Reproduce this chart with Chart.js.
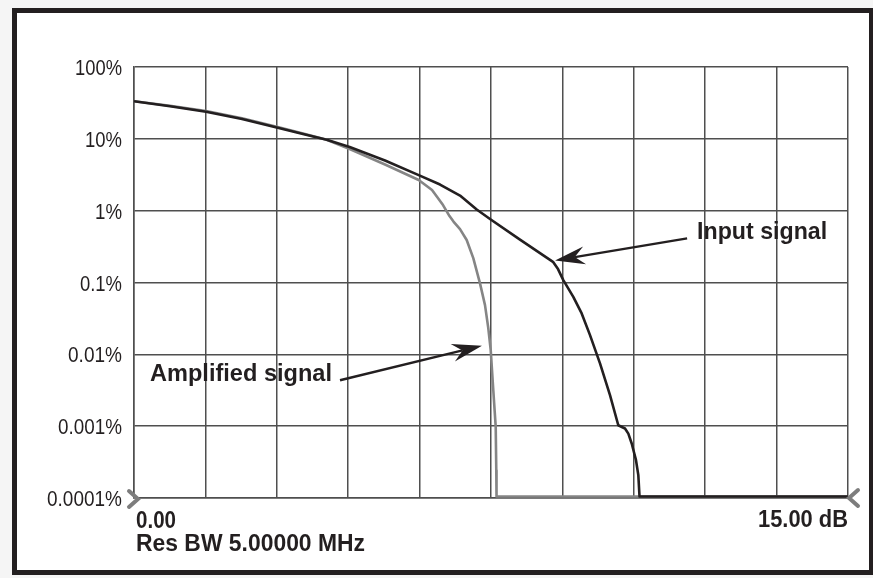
<!DOCTYPE html>
<html>
<head>
<meta charset="utf-8">
<script src="https://cdn.jsdelivr.net/npm/chart.js@4.4.1/dist/chart.umd.min.js"></script>
<style>
  html, body { margin: 0; padding: 0; background: #f5f5f5; }
  canvas { display: block; }
</style>
</head>
<body>
<canvas id="c" width="873" height="578"></canvas>
<script>
// ---- Data ----
const inputX = [0, 0.756, 1.513, 2.269, 3.019, 3.592, 4.048, 4.531, 5.273, 5.981, 6.429, 6.849, 7.200, 7.479, 8.109, 8.802, 8.908, 9.019, 9.229, 9.405, 9.580, 9.790, 10.000, 10.174, 10.315, 10.385, 10.456, 10.546, 10.595, 10.620, 15];
const inputY = [33.3, 28.4, 23.85, 18.87, 14.23, 11.48, 9.69, 7.69, 4.99, 3.13, 2.31, 1.62, 1.036, 0.764, 0.396, 0.194, 0.1537, 0.108, 0.0632, 0.0371, 0.0185, 0.00747, 0.00270, 0.00103, 0.000929, 0.000787, 0.000574, 0.000336, 0.000208, 0.000105, 0.000105];

const ampX = [0, 0.756, 1.513, 2.269, 3.019, 3.592, 4.048, 4.531, 5.273, 5.981, 6.261, 6.492, 6.628, 6.712, 6.849, 6.989, 7.128, 7.269, 7.374, 7.443, 7.494, 7.548, 7.599, 7.611, 7.616, 15];
const ampY = [33.3, 28.8, 24.4, 19.36, 14.6, 11.67, 9.69, 7.21, 4.39, 2.67, 1.94, 1.197, 0.841, 0.705, 0.554, 0.390, 0.2187, 0.0972, 0.0484, 0.0232, 0.01144, 0.00317, 0.000978, 0.000244, 0.000105, 0.000105];

const yTickValues = [100, 10, 1, 0.1, 0.01, 0.001, 0.0001];
const yTickLabels = ['100%', '10%', '1%', '0.1%', '0.01%', '0.001%', '0.0001%'];
const xTickValues = [0, 15];
const xTickLabels = ['0.00', '15.00 dB'];
const xAxisNote = 'Res BW 5.00000 MHz';

const seriesNames = ['Input signal', 'Amplified signal'];
// annotation anchors in data coordinates: [labelX, labelY, tailX, tailY, tipX, tipY]
const inputNote = [11.83, 0.398, 11.62, 0.411, 8.845, 0.203];
const ampNote = [0.336, 0.0043, 4.328, 0.00436, 7.31, 0.0132];

const INK = '#231f20';
const GRID = '#4f4f4f';
const GRAY = '#858585';

function toPts(xs, ys) { return xs.map((x, i) => ({ x: x, y: ys[i] })); }

function fitText(ctx, text, x, y, font, width, align) {
  ctx.save();
  ctx.font = font;
  const w = ctx.measureText(text).width;
  const sx = width / w;
  ctx.textBaseline = 'alphabetic';
  ctx.textAlign = 'left';
  let left = x;
  if (align === 'right') left = x - width;
  ctx.translate(left, y);
  ctx.scale(sx, 1);
  ctx.fillText(text, 0, 0);
  ctx.restore();
}

function arrow(ctx, x1, y1, x2, y2) {
  const ang = Math.atan2(y2 - y1, x2 - x1);
  const L = 30, W = 9, N = 20;
  ctx.save();
  ctx.strokeStyle = INK; ctx.fillStyle = INK; ctx.lineWidth = 2.4;
  ctx.beginPath();
  ctx.moveTo(x1, y1);
  ctx.lineTo(x2 - Math.cos(ang) * N, y2 - Math.sin(ang) * N);
  ctx.stroke();
  ctx.translate(x2, y2); ctx.rotate(ang);
  ctx.beginPath();
  ctx.moveTo(0, 0);
  ctx.lineTo(-L, -W);
  ctx.lineTo(-N, 0);
  ctx.lineTo(-L, W);
  ctx.closePath();
  ctx.fill();
  ctx.restore();
}

function chevron(ctx, x, y, dir) {
  ctx.save();
  ctx.strokeStyle = '#7d7d7d'; ctx.lineWidth = 4; ctx.lineCap = 'round'; ctx.lineJoin = 'miter';
  ctx.beginPath();
  ctx.moveTo(x - dir * 9, y - 8);
  ctx.lineTo(x, y);
  ctx.lineTo(x - dir * 9, y + 8);
  ctx.stroke();
  ctx.restore();
}

const framePlugin = {
  id: 'frame',
  beforeDraw(chart) {
    const ctx = chart.ctx;
    ctx.save();
    ctx.fillStyle = '#f5f5f5';
    ctx.fillRect(0, 0, chart.width, chart.height);
    ctx.fillStyle = '#ffffff';
    ctx.fillRect(14.5, 10.5, 857, 562);
    ctx.strokeStyle = INK; ctx.lineWidth = 5;
    ctx.strokeRect(14.5, 10.5, 857, 562);
    ctx.restore();
  }
};

const labelPlugin = {
  id: 'labels',
  afterDraw(chart) {
    const ctx = chart.ctx;
    const xs = chart.scales.x, ys = chart.scales.y;
    const a = chart.chartArea;
    ctx.save();
    ctx.fillStyle = INK;
    // y tick labels
    const yWidths = [47, 37, 27, 42, 54, 64, 75];
    yTickValues.forEach((v, i) => {
      const py = ys.getPixelForValue(v);
      fitText(ctx, yTickLabels[i], a.left - 12, py + 8, '22px "Liberation Sans", Arial, sans-serif', yWidths[i], 'right');
    });
    // x tick labels
    const bottom = a.bottom;
    fitText(ctx, xTickLabels[0], xs.getPixelForValue(xTickValues[0]) + 2, bottom + 30, 'bold 23px "Liberation Sans", Arial, sans-serif', 40, 'left');
    fitText(ctx, xTickLabels[1], xs.getPixelForValue(xTickValues[1]), bottom + 29, 'bold 23px "Liberation Sans", Arial, sans-serif', 90, 'right');
    fitText(ctx, xAxisNote, xs.getPixelForValue(xTickValues[0]) + 2, bottom + 53, 'bold 23px "Liberation Sans", Arial, sans-serif', 229, 'left');
    // chevrons at the axis ends
    chevron(ctx, a.left + 4, bottom + 1, 1);
    chevron(ctx, a.right + 1, bottom, -1);
    // annotations
    fitText(ctx, seriesNames[0], xs.getPixelForValue(inputNote[0]), ys.getPixelForValue(inputNote[1]), 'bold 24px "Liberation Sans", Arial, sans-serif', 130, 'left');
    arrow(ctx, xs.getPixelForValue(inputNote[2]), ys.getPixelForValue(inputNote[3]), xs.getPixelForValue(inputNote[4]), ys.getPixelForValue(inputNote[5]));
    fitText(ctx, seriesNames[1], xs.getPixelForValue(ampNote[0]), ys.getPixelForValue(ampNote[1]), 'bold 24px "Liberation Sans", Arial, sans-serif', 182, 'left');
    arrow(ctx, xs.getPixelForValue(ampNote[2]), ys.getPixelForValue(ampNote[3]), xs.getPixelForValue(ampNote[4]), ys.getPixelForValue(ampNote[5]));
    ctx.restore();
  }
};

new Chart(document.getElementById('c'), {
  type: 'scatter',
  data: {
    datasets: [
      { label: seriesNames[0], data: toPts(inputX, inputY), showLine: true, borderColor: INK, borderWidth: 2.6, borderJoinStyle: 'round', pointRadius: 0, tension: 0, fill: false, order: 0 },
      { label: seriesNames[1], data: toPts(ampX, ampY), showLine: true, borderColor: GRAY, borderWidth: 2.6, borderJoinStyle: 'round', pointRadius: 0, tension: 0, fill: false, order: 1 }
    ]
  },
  options: {
    responsive: false,
    animation: false,
    devicePixelRatio: 1,
    layout: { padding: { left: 134, right: 25, top: 67, bottom: 80 } },
    plugins: { legend: { display: false }, tooltip: { enabled: false } },
    scales: {
      x: {
        type: 'linear', min: 0, max: 15,
        ticks: { display: false, stepSize: 1.5 },
        grid: { color: GRID, lineWidth: 1.5, drawTicks: false },
        border: { display: true, color: GRID, width: 1.5 }
      },
      y: {
        type: 'logarithmic', min: 0.0001, max: 100,
        afterBuildTicks: (s) => { s.ticks = yTickValues.map(v => ({ value: v })); },
        ticks: { display: false },
        grid: { color: GRID, lineWidth: 1.5, drawTicks: false },
        border: { display: true, color: GRID, width: 1.5 }
      }
    }
  },
  plugins: [framePlugin, labelPlugin]
});
</script>
</body>
</html>
